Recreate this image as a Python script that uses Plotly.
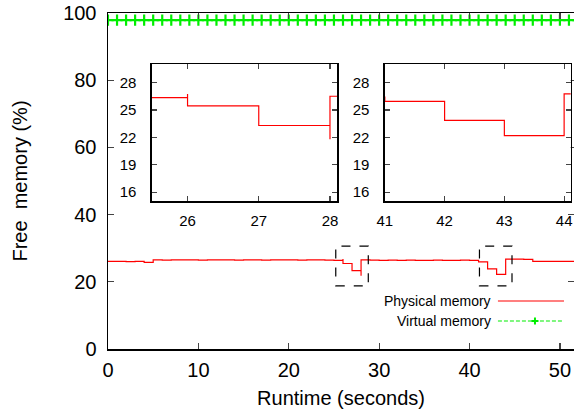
import plotly.graph_objects as go

# ---------------- data ----------------
PHYS_TIME = [0, 1, 2, 3, 4, 5, 6, 7, 8, 9, 10, 11, 12, 13, 14, 15, 16, 17, 18, 19,
             20, 21, 22, 23, 24, 25, 26, 26, 27, 28, 28, 29, 30, 31, 32, 33, 34, 35,
             36, 37, 38, 39, 40, 41, 42, 43, 44, 45, 46, 47, 48, 49, 50, 51, 52]
PHYS_MEM = [26.05, 26.05, 26.0, 26.05, 25.8, 26.5, 26.45, 26.5, 26.55, 26.5, 26.45,
            26.5, 26.5, 26.55, 26.45, 26.5, 26.5, 26.45, 26.5, 26.55, 26.5, 26.45,
            26.5, 26.5, 26.45, 26.35, 26.76, 25.44, 23.3, 21.8, 26.5, 26.45, 26.4,
            26.45, 26.4, 26.45, 26.4, 26.4, 26.45, 26.4, 26.4, 26.45, 26.4, 25.95,
            23.87, 22.2, 26.76, 26.76, 26.7, 26.1, 26.05, 26.1, 26.05, 26.05, 26.1]

VIRT_TIME = list(range(0, 53))
VIRT_MEM = [97.9] * len(VIRT_TIME)

X_TICKS = [0, 10, 20, 30, 40, 50]
Y_TICKS = [0, 20, 40, 60, 80, 100]
INSET1_XTICKS = [26, 27, 28]
INSET2_XTICKS = [41, 42, 43, 44]
INSET_YTICKS = [16, 19, 22, 25, 28]
INSET1_RANGE = [25.5, 28.1]
INSET2_RANGE = [41.0, 44.11]
INSET_YRANGE = [15, 30]
ZOOM_BOXES = [(25.2, 28.8, 18.8, 30.6), (41.1, 44.7, 18.8, 30.6)]

LEGEND_NAMES = ["Physical memory", "Virtual memory"]

# ---------------- style ----------------
FONT = "Liberation Sans, Arial, sans-serif"
RED = "#ff0000"
GREEN = "#00ee00"
GREEN_DASH = "4px,2px"

W, H = 574, 413
# plot area in window pixels
PX0, PX1, PY0, PY1 = 108.4, 574.0, 13.0, 349.0
L, R, T, B = PX0, W - PX1, PY0, H - PY1
pw, ph = PX1 - PX0, PY1 - PY0

def dom_x(p0, p1):
    return [(p0 - PX0) / pw, (p1 - PX0) / pw]

def dom_y(top, bottom):
    return [(PY1 - bottom) / ph, (PY1 - top) / ph]

fig = go.Figure()

for xa, ya in [("x", "y"), ("x2", "y2"), ("x3", "y3")]:
    fig.add_trace(go.Scatter(
        x=PHYS_TIME, y=PHYS_MEM, mode="lines", line_shape="hv",
        line=dict(color=RED, width=1.2), name=LEGEND_NAMES[0],
        xaxis=xa, yaxis=ya, showlegend=False))

fig.add_trace(go.Scatter(
    x=VIRT_TIME, y=VIRT_MEM, mode="lines+markers",
    line=dict(color=GREEN, width=1.2, dash=GREEN_DASH),
    marker=dict(symbol="cross-thin", size=8, line=dict(color=GREEN, width=2.2)),
    name=LEGEND_NAMES[1], showlegend=False, xaxis="x", yaxis="y"))

axis_common = dict(showgrid=False, zeroline=False, showline=True, linecolor="black",
                   linewidth=1.5, ticks="inside", mirror="ticks", tickcolor="#444",
                   tickwidth=1.2, automargin=False)

fig.update_layout(
    width=W, height=H,
    margin=dict(l=L, r=R, t=T, b=B, pad=0),
    plot_bgcolor="white", paper_bgcolor="white",
    font=dict(family=FONT, color="black"),
    showlegend=False,
    xaxis=dict(**axis_common, range=[0, 51.56], tickvals=X_TICKS, ticklen=6,
               tickfont=dict(size=20), ticklabelstandoff=2,
               title=dict(text="Runtime (seconds)", font=dict(size=20), standoff=11)),
    yaxis=dict(**axis_common, range=[0, 100], tickvals=Y_TICKS, ticklen=6,
               tickfont=dict(size=20), ticklabelstandoff=6,
               title=dict(text="Free  memory (%)", font=dict(size=20), standoff=30)),
    xaxis2=dict(**axis_common, range=INSET1_RANGE, tickvals=INSET1_XTICKS, ticklen=5,
                tickfont=dict(size=15), ticklabelstandoff=5,
                domain=dom_x(152.3, 337.3), anchor="y2"),
    yaxis2=dict(**axis_common, range=INSET_YRANGE, tickvals=INSET_YTICKS, ticklen=5,
                tickfont=dict(size=15), ticklabelstandoff=11,
                domain=dom_y(64.3, 201.3), anchor="x2"),
    xaxis3=dict(**axis_common, range=INSET2_RANGE, tickvals=INSET2_XTICKS, ticklen=5,
                tickfont=dict(size=15), ticklabelstandoff=5,
                domain=dom_x(385, 570.7), anchor="y3"),
    yaxis3=dict(**axis_common, range=INSET_YRANGE, tickvals=INSET_YTICKS, ticklen=5,
                tickfont=dict(size=15), ticklabelstandoff=11,
                domain=dom_y(64.3, 201.3), anchor="x3"),
)

shapes = []
for x0, x1, y0, y1 in ZOOM_BOXES:
    shapes.append(dict(type="rect", xref="x", yref="y", x0=x0, x1=x1, y0=y0, y1=y1,
                       line=dict(color="black", width=1.2, dash="dash")))

# legend (gnuplot style: text on the left, sample on the right)
def px(xw):
    return (xw - PX0) / pw

def py(yw):
    return (PY1 - yw) / ph

leg_x0, leg_x1 = px(498), px(564)
leg_text_x = px(493)
leg_y = [py(301), py(321)]
shapes.append(dict(type="line", xref="paper", yref="paper", x0=leg_x0, x1=leg_x1,
                   y0=leg_y[0], y1=leg_y[0], line=dict(color=RED, width=1.2)))
shapes.append(dict(type="line", xref="paper", yref="paper", x0=leg_x0, x1=leg_x1,
                   y0=leg_y[1], y1=leg_y[1], line=dict(color=GREEN, width=1.2, dash=GREEN_DASH)))
cx = px(535)
dx, dy = 3.5 / pw, 3.5 / ph
shapes.append(dict(type="line", xref="paper", yref="paper", x0=cx - dx, x1=cx + dx,
                   y0=leg_y[1], y1=leg_y[1], line=dict(color=GREEN, width=2)))
shapes.append(dict(type="line", xref="paper", yref="paper", x0=cx, x1=cx,
                   y0=leg_y[1] - dy, y1=leg_y[1] + dy, line=dict(color=GREEN, width=2)))
fig.update_layout(shapes=shapes)

for name, yy in zip(LEGEND_NAMES, leg_y):
    fig.add_annotation(x=leg_text_x, y=yy, xref="paper", yref="paper", text=name,
                       showarrow=False, xanchor="right", yanchor="middle",
                       font=dict(size=14, family=FONT, color="black"))

fig.write_html("out.html",
               config={"displayModeBar": False, "staticPlot": True},
               post_script="document.body.style.margin='0';"
                           "document.body.style.overflow='hidden';")
